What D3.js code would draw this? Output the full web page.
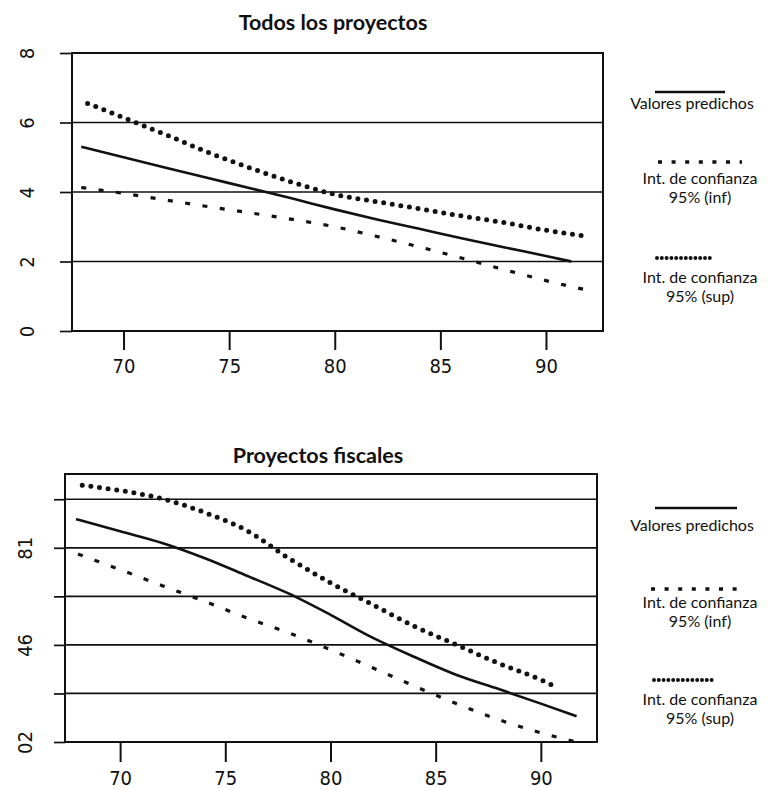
<!DOCTYPE html>
<html>
<head>
<meta charset="utf-8">
<script src="https://cdn.jsdelivr.net/npm/d3@7"></script>
<style>
  html, body { margin: 0; padding: 0; background: #ffffff; }
  svg { display: block; }
</style>
</head>
<body>
<svg id="chart" width="771" height="790"></svg>
<script>
// ---------------- DATA ----------------
const xTickValues = [70, 75, 80, 85, 90];

// Panel 1: "Todos los proyectos"
const topTitle = "Todos los proyectos";
const topPredYears = [68.0, 70, 72, 74, 76, 78, 80, 82, 84, 86, 88, 90, 91.2];
const topPredValues = [5.30, 5.00, 4.70, 4.40, 4.11, 3.81, 3.50, 3.21, 2.94, 2.67, 2.41, 2.16, 2.00];
const topUpperYears = [68.3, 70, 72, 74, 76, 78, 80, 82, 84, 86, 88, 90, 91.8];
const topUpperValues = [6.55, 6.14, 5.65, 5.14, 4.69, 4.28, 3.93, 3.72, 3.52, 3.31, 3.12, 2.90, 2.74];
const topLowerYears = [68.0, 70, 72, 74, 76, 78, 80, 82, 84, 86, 88, 90, 92.0];
const topLowerValues = [4.13, 3.96, 3.77, 3.58, 3.40, 3.21, 3.00, 2.72, 2.42, 2.10, 1.77, 1.45, 1.17];
const topYTicks = [0, 2, 4, 6, 8];
const topYTickLabels = ["0", "2", "4", "6", "8"];
const topGridValues = [2, 4, 6];

// Panel 2: "Proyectos fiscales" (values in grid-line units of the printed axis)
const botTitle = "Proyectos fiscales";
const botPredYears = [67.9, 70, 72, 74, 76, 78, 80, 82, 84, 86, 88, 90, 91.7];
const botPredValues = [4.59, 4.34, 4.10, 3.79, 3.43, 3.06, 2.62, 2.15, 1.75, 1.38, 1.09, 0.79, 0.53];
const botUpperYears = [68.2, 70, 72, 74, 76, 78, 80, 82, 84, 86, 88, 90, 90.5];
const botUpperValues = [5.29, 5.18, 5.01, 4.73, 4.36, 3.79, 3.28, 2.83, 2.38, 2.00, 1.62, 1.28, 1.18];
const botLowerYears = [68.0, 70, 72, 74, 76, 78, 80, 82, 84, 86, 88, 90, 91.6];
const botLowerValues = [3.87, 3.55, 3.22, 2.90, 2.56, 2.25, 1.90, 1.53, 1.15, 0.79, 0.46, 0.19, 0.01];
const botYTicks = [0, 1, 2, 3, 4, 5];
const botYLabelValues = [0, 2, 4];
const botYTickLabels = ["02", "46", "81"];
const botGridValues = [1, 2, 3, 4, 5];

// Legend texts
const legendPred = ["Valores predichos"];
const legendInf = ["Int. de confianza", "95% (inf)"];
const legendSup = ["Int. de confianza", "95% (sup)"];

// ---------------- DRAWING ----------------
const svg = d3.select("#chart");
const TEXT_FONT = "Lato, 'Open Sans', 'DejaVu Sans', sans-serif";
const NUM_FONT = "'Liberation Sans Narrow', 'DejaVu Sans Condensed', 'Liberation Sans', sans-serif";

const styles = {
  pred: { width: 2.6, dash: null, cap: "butt" },
  inf:  { width: 3.2, dash: "5,12.5", cap: "butt" },
  sup:  { width: 5, dash: "0,8.7", cap: "round" }
};
const legendStyles = {
  pred: { width: 2.4, dash: null, cap: "butt" },
  inf:  { width: 3.6, dash: "4,9.6", cap: "butt" },
  sup:  { width: 4, dash: "0,4.8", cap: "round" }
};

function zip(xs, ys) { return xs.map((x, i) => ({ x: x, y: ys[i] })); }

function drawPanel(cfg) {
  const g = svg.append("g");
  const x = d3.scaleLinear().domain(cfg.xDomain).range([cfg.box.l, cfg.box.r]);
  const y = d3.scaleLinear().domain(cfg.yDomain).range([cfg.box.b, cfg.box.t]);

  // title
  g.append("text")
    .attr("x", cfg.titleX).attr("y", cfg.titleY)
    .attr("text-anchor", "middle")
    .attr("font-family", TEXT_FONT).attr("font-weight", "bold")
    .attr("font-size", 21.5).attr("fill", "#111")
    .text(cfg.title);

  // grid lines
  g.append("g").selectAll("line").data(cfg.grid).join("line")
    .attr("x1", cfg.box.l).attr("x2", cfg.box.r)
    .attr("y1", d => y(d)).attr("y2", d => y(d))
    .attr("stroke", "#111").attr("stroke-width", 1.7);

  // x axis
  const xAxis = d3.axisBottom(x).tickValues(xTickValues).tickSize(cfg.xTickSize).tickPadding(cfg.xTickPad).tickFormat(d3.format("d"));
  const gx = g.append("g").attr("transform", `translate(0,${cfg.box.b})`).call(xAxis);
  gx.select(".domain").remove();
  gx.selectAll(".tick line").attr("stroke", "#111").attr("stroke-width", 2);
  gx.selectAll(".tick text").attr("font-family", NUM_FONT).attr("font-size", 20).attr("fill", "#111");

  // y axis
  const yAxis = d3.axisLeft(y).tickValues(cfg.yTicks).tickSize(cfg.yTickSize)
    .tickFormat(d => { const i = cfg.yLabelValues.indexOf(d); return i >= 0 ? cfg.yLabels[i] : ""; });
  const gy = g.append("g").attr("transform", `translate(${cfg.box.l},0)`).call(yAxis);
  gy.select(".domain").remove();
  gy.selectAll(".tick line").attr("stroke", "#111").attr("stroke-width", 1.7);
  gy.selectAll(".tick text")
    .attr("transform", "rotate(-90)")
    .attr("x", 0).attr("y", -cfg.yLabelOffset).attr("dy", 0)
    .attr("text-anchor", "middle")
    .attr("font-family", NUM_FONT).attr("font-size", 20).attr("fill", "#111");

  // series
  const line = d3.line().x(d => x(d.x)).y(d => y(d.y)).curve(d3.curveMonotoneX);
  cfg.series.forEach(s => {
    const st = styles[s.style];
    g.append("path").datum(zip(s.xs, s.ys))
      .attr("d", line)
      .attr("fill", "none").attr("stroke", "#111")
      .attr("stroke-width", st.width)
      .attr("stroke-linecap", st.cap)
      .attr("stroke-dasharray", st.dash);
  });

  // box
  g.append("rect")
    .attr("x", cfg.box.l).attr("y", cfg.box.t)
    .attr("width", cfg.box.r - cfg.box.l).attr("height", cfg.box.b - cfg.box.t)
    .attr("fill", "none").attr("stroke", "#111").attr("stroke-width", 2);

  // legend
  cfg.legend.forEach(item => {
    const st = legendStyles[item.style];
    g.append("line")
      .attr("x1", item.x1).attr("x2", item.x2)
      .attr("y1", item.ly).attr("y2", item.ly)
      .attr("stroke", "#111").attr("stroke-width", st.width)
      .attr("stroke-linecap", st.cap).attr("stroke-dasharray", st.dash);
    item.text.forEach((s, i) => {
      g.append("text")
        .attr("x", item.tx).attr("y", item.ty + i * 18.5)
        .attr("text-anchor", "middle")
        .attr("font-family", TEXT_FONT).attr("font-size", 16).attr("fill", "#111")
        .text(s);
    });
  });
}

drawPanel({
  title: topTitle, titleX: 333, titleY: 30,
  box: { l: 72, r: 603, t: 53, b: 331 },
  xDomain: [67.56, 92.7], yDomain: [0, 8],
  grid: topGridValues,
  yTicks: topYTicks, yLabelValues: topYTicks, yLabels: topYTickLabels,
  xTickSize: 19, xTickPad: 9, yTickSize: 12, yLabelOffset: 38,
  series: [
    { xs: topPredYears, ys: topPredValues, style: "pred" },
    { xs: topLowerYears, ys: topLowerValues, style: "inf" },
    { xs: topUpperYears, ys: topUpperValues, style: "sup" }
  ],
  legend: [
    { style: "pred", x1: 655, x2: 725, ly: 92, tx: 692, ty: 109, text: legendPred },
    { style: "inf", x1: 658, x2: 742, ly: 162, tx: 700, ty: 184, text: legendInf },
    { style: "sup", x1: 657, x2: 714, ly: 258, tx: 700, ty: 283, text: legendSup }
  ]
});

drawPanel({
  title: botTitle, titleX: 318, titleY: 463,
  box: { l: 65, r: 597, t: 474, b: 742 },
  xDomain: [67.38, 92.67], yDomain: [0, 5.52],
  grid: botGridValues,
  yTicks: botYTicks, yLabelValues: botYLabelValues, yLabels: botYTickLabels,
  xTickSize: 20, xTickPad: 9, yTickSize: 11, yLabelOffset: 33,
  series: [
    { xs: botPredYears, ys: botPredValues, style: "pred" },
    { xs: botLowerYears, ys: botLowerValues, style: "inf" },
    { xs: botUpperYears, ys: botUpperValues, style: "sup" }
  ],
  legend: [
    { style: "pred", x1: 655, x2: 737, ly: 508, tx: 692, ty: 531, text: legendPred },
    { style: "inf", x1: 651, x2: 741, ly: 589, tx: 700, ty: 608, text: legendInf },
    { style: "sup", x1: 654, x2: 712, ly: 680, tx: 700, ty: 705, text: legendSup }
  ]
});
</script>
</body>
</html>
